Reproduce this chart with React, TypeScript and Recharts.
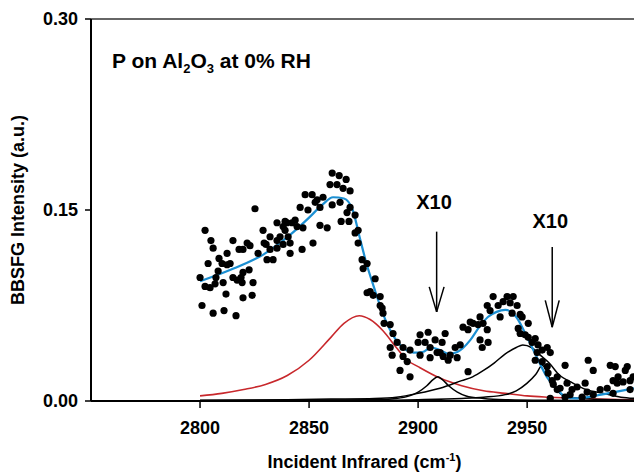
import React from "react";
import {
  ComposedChart,
  XAxis,
  YAxis,
  Scatter,
  Line,
  ReferenceLine,
  ReferenceDot,
} from "recharts";

const FONT = "'Liberation Sans', Arial, sans-serif";

const xTicks = [2800, 2850, 2900, 2950];
const yTicks = [0, 0.15, 0.3];

// measured points (wavenumber, intensity)
const dotWn = [
  2800.0, 2800.9, 2802.3, 2802.3, 2803.7, 2804.6, 2805.0, 2806.0, 2806.0, 2806.9,
  2807.3, 2808.3, 2808.7, 2810.1, 2810.6, 2811.0, 2811.9, 2812.4, 2812.4, 2813.8,
  2815.1, 2815.1, 2816.5, 2817.0, 2817.9, 2818.8, 2819.3, 2819.7, 2819.7, 2819.7,
  2821.6, 2822.5, 2822.9, 2823.9, 2824.3, 2825.2, 2826.6, 2828.9, 2829.4, 2830.3,
  2830.7, 2832.1, 2832.1, 2833.5, 2835.3, 2835.3, 2835.3, 2836.7, 2838.1, 2838.1,
  2839.0, 2839.0, 2839.9, 2840.4, 2841.3, 2841.3, 2842.2, 2843.6, 2844.5, 2845.9,
  2846.8, 2847.2, 2848.2, 2849.5, 2851.4, 2851.8, 2852.8, 2853.7, 2855.0, 2855.0,
  2856.4, 2858.3, 2859.6, 2860.6, 2860.6, 2862.8, 2863.8, 2864.2, 2864.7, 2865.6,
  2867.0, 2867.4, 2868.3, 2868.8, 2868.8, 2871.1, 2871.1, 2872.5, 2872.5, 2874.3,
  2874.8, 2876.6, 2876.6, 2878.0, 2879.4, 2880.3, 2882.6, 2882.6, 2883.5, 2883.9,
  2884.4, 2887.2, 2887.2, 2888.1, 2888.5, 2890.4, 2891.7, 2893.1, 2893.1, 2895.0,
  2896.3, 2896.3, 2900.0, 2900.9, 2900.9, 2903.2, 2904.6, 2905.5, 2905.5, 2907.8,
  2908.7, 2910.1, 2911.0, 2911.5, 2912.4, 2913.8, 2914.7, 2917.0, 2917.9, 2919.3,
  2920.6, 2922.9, 2922.9, 2923.9, 2925.2, 2927.5, 2928.4, 2928.4, 2929.4, 2929.8,
  2931.7, 2931.7, 2932.1, 2933.0, 2934.4, 2936.7, 2937.6, 2939.0, 2940.8, 2942.2,
  2943.1, 2943.6, 2945.4, 2945.9, 2946.8, 2946.8, 2947.7, 2949.1, 2950.5, 2950.5,
  2952.3, 2953.7, 2953.7, 2954.6, 2955.0, 2956.9, 2956.9, 2959.2, 2959.2, 2959.6,
  2960.6, 2960.6, 2961.5, 2962.0, 2963.8, 2963.8, 2965.1, 2967.4, 2967.4, 2968.3,
  2969.7, 2970.6, 2972.9, 2975.2, 2976.6, 2977.5, 2978.0, 2980.3, 2980.3, 2983.5,
  2986.7, 2988.1, 2989.4, 2989.4, 2990.4, 2991.3, 2991.7, 2994.0, 2995.0, 2995.9,
  2997.2, 2997.2, 2998.6,
];
const dotInt = [
  0.097, 0.075, 0.134, 0.090, 0.108, 0.089, 0.126, 0.120, 0.069, 0.092,
  0.097, 0.102, 0.112, 0.108, 0.093, 0.071, 0.084, 0.116, 0.107, 0.108,
  0.126, 0.097, 0.067, 0.095, 0.119, 0.097, 0.093, 0.101, 0.119, 0.081,
  0.124, 0.103, 0.122, 0.083, 0.093, 0.151, 0.116, 0.134, 0.124, 0.123,
  0.111, 0.129, 0.119, 0.111, 0.140, 0.126, 0.120, 0.129, 0.123, 0.137,
  0.141, 0.134, 0.140, 0.129, 0.124, 0.116, 0.140, 0.142, 0.137, 0.152,
  0.119, 0.136, 0.162, 0.150, 0.162, 0.124, 0.156, 0.158, 0.152, 0.138,
  0.160, 0.136, 0.170, 0.179, 0.154, 0.170, 0.177, 0.156, 0.141, 0.167,
  0.174, 0.148, 0.141, 0.165, 0.152, 0.146, 0.132, 0.134, 0.124, 0.111,
  0.104, 0.108, 0.085, 0.086, 0.083, 0.096, 0.082, 0.075, 0.073, 0.069,
  0.061, 0.060, 0.042, 0.036, 0.053, 0.046, 0.024, 0.042, 0.035, 0.031,
  0.040, 0.019, 0.046, 0.052, 0.036, 0.046, 0.054, 0.042, 0.034, 0.048,
  0.038, 0.038, 0.046, 0.035, 0.053, 0.032, 0.036, 0.042, 0.034, 0.044,
  0.058, 0.056, 0.023, 0.062, 0.061, 0.060, 0.066, 0.048, 0.042, 0.061,
  0.075, 0.056, 0.046, 0.071, 0.082, 0.075, 0.066, 0.078, 0.082, 0.077,
  0.069, 0.082, 0.075, 0.057, 0.068, 0.053, 0.066, 0.052, 0.061, 0.050,
  0.046, 0.049, 0.032, 0.038, 0.044, 0.040, 0.031, 0.042, 0.027, 0.022,
  0.038, 0.002, 0.016, 0.013, 0.019, 0.009, 0.010, 0.028, 0.003, 0.014,
  0.005, 0.009, 0.011, 0.003, 0.014, 0.007, 0.032, 0.024, 0.005, 0.009,
  0.010, 0.028, 0.016, 0.006, 0.027, 0.014, 0.019, 0.015, 0.024, 0.027,
  0.016, 0.009, 0.019,
];

// total fit (blue)
const fitWn = [
  2800, 2814, 2829, 2841, 2850, 2856, 2861, 2866, 2870, 2873, 2876, 2880, 2884,
  2888, 2893, 2898, 2902, 2906, 2910, 2914, 2918, 2924, 2928, 2932, 2936, 2940,
  2945, 2950, 2954, 2959, 2964, 2968, 2972, 2978, 2984, 2990, 2999,
];
const fitInt = [
  0.094, 0.103, 0.115, 0.130, 0.144, 0.154, 0.160, 0.159, 0.150, 0.130, 0.110,
  0.088, 0.068, 0.053, 0.042, 0.038, 0.0385, 0.042, 0.040, 0.037, 0.0385, 0.048,
  0.058, 0.066, 0.070, 0.0715, 0.066, 0.050, 0.036, 0.019, 0.0086, 0.003, 0.002,
  0.003, 0.005, 0.007, 0.010,
];

// broad component (red)
const redWn = [
  2800, 2810, 2820, 2830, 2840, 2850, 2860, 2866, 2873, 2878, 2884, 2890, 2895,
  2900, 2910, 2920, 2930, 2940, 2950, 2960, 2975, 3000,
];
const redInt = [
  0.004, 0.006, 0.009, 0.013, 0.020, 0.032, 0.050, 0.061, 0.067, 0.064, 0.055,
  0.042, 0.032, 0.027, 0.018, 0.012, 0.008, 0.006, 0.004, 0.003, 0.002, 0.001,
];

// resonant components (black)
const peakAWn = [2800, 2860, 2880, 2890, 2896, 2900, 2904, 2907, 2909, 2911, 2914, 2918, 2922, 2930, 2940, 2960, 3000];
const peakAInt = [0.0003, 0.0008, 0.001, 0.002, 0.004, 0.007, 0.012, 0.017, 0.019, 0.017, 0.012, 0.007, 0.004, 0.002, 0.001, 0.0005, 0.0002];

const peakBWn = [
  2800, 2840, 2860, 2880, 2890, 2900, 2910, 2920, 2925, 2930, 2935, 2940, 2945,
  2948, 2952, 2956, 2960, 2965, 2970, 2977, 2985, 2993, 3000,
];
const peakBInt = [
  0.0005, 0.001, 0.0015, 0.002, 0.003, 0.006, 0.010, 0.016, 0.019, 0.024, 0.030,
  0.037, 0.042, 0.044, 0.042, 0.036, 0.030, 0.020, 0.015, 0.009, 0.006, 0.003,
  0.002,
];

const peakCWn = [2800, 2880, 2900, 2920, 2930, 2940, 2945, 2950, 2954, 2957, 2960, 2963, 2967, 2975, 2990, 3000];
const peakCInt = [0.0002, 0.0005, 0.001, 0.002, 0.003, 0.005, 0.008, 0.014, 0.021, 0.028, 0.019, 0.010, 0.004, 0.002, 0.001, 0.0008];

const zip = (xs: number[], ys: number[]) => xs.map((x, i) => ({ x, y: ys[i] }));

const dots = zip(dotWn, dotInt);
const fit = zip(fitWn, fitInt);
const red = zip(redWn, redInt);
const peakA = zip(peakAWn, peakAInt);
const peakB = zip(peakBWn, peakBInt);
const peakC = zip(peakCWn, peakCInt);

const tickStyle = { fontFamily: FONT, fontSize: 18, fontWeight: "bold", fill: "#000" };
const x10Label = { value: "X10", position: "center" as const, fill: "#000", fontSize: 20, fontWeight: "bold", fontFamily: FONT };

const Dot = (props: any) => <circle cx={props.cx} cy={props.cy} r={3.6} fill="#000" />;

const XTitle = (props: any) => {
  const vb = props.viewBox;
  return (
    <text x={vb.x + vb.width / 2 + 2} y={468} textAnchor="middle" fontFamily={FONT} fontSize={18} fontWeight="bold" fill="#000">
      Incident Infrared (cm<tspan dy={-7} fontSize={11}>-1</tspan><tspan dy={7}>)</tspan>
    </text>
  );
};

const YTitle = (props: any) => {
  const vb = props.viewBox;
  const cy = vb.y + vb.height / 2;
  return (
    <text x={24} y={cy} transform={`rotate(-90 24 ${cy})`} textAnchor="middle" fontFamily={FONT} fontSize={18} fontWeight="bold" fill="#000">
      BBSFG Intensity (a.u.)
    </text>
  );
};

export default function App() {
  return (
    <div style={{ position: "fixed", left: 0, top: 0, width: 634, height: 473, background: "#fff" }}>
      <ComposedChart width={634} height={473} margin={{ top: 19, right: 0, bottom: 12, left: 0 }}>
        <XAxis
          type="number"
          dataKey="x"
          domain={[2750, 2999]}
          allowDataOverflow
          ticks={xTicks}
          tickSize={7}
          tickMargin={13}
          height={60}
          axisLine={{ stroke: "#000", strokeWidth: 2 }}
          tickLine={{ stroke: "#000", strokeWidth: 1.5 }}
          tick={tickStyle}
          label={<XTitle />}
        />
        <YAxis
          type="number"
          dataKey="y"
          domain={[0, 0.3]}
          allowDataOverflow
          ticks={yTicks}
          width={91}
          tickSize={6}
          tickMargin={7}
          tickFormatter={(v: number) => v.toFixed(2)}
          axisLine={{ stroke: "#000", strokeWidth: 2 }}
          tickLine={{ stroke: "#000", strokeWidth: 1.5 }}
          tick={tickStyle}
          label={<YTitle />}
        />
        <ReferenceLine y={0.3} stroke="#333" strokeWidth={1.5} />
        <Scatter data={dots} shape={Dot} isAnimationActive={false} />
        <Line data={red} dataKey="y" type="monotone" stroke="#c8282c" strokeWidth={1.6} dot={false} isAnimationActive={false} />
        <Line data={peakA} dataKey="y" type="monotone" stroke="#000" strokeWidth={1.5} dot={false} isAnimationActive={false} />
        <Line data={peakB} dataKey="y" type="monotone" stroke="#000" strokeWidth={1.5} dot={false} isAnimationActive={false} />
        <Line data={peakC} dataKey="y" type="monotone" stroke="#000" strokeWidth={1.5} dot={false} isAnimationActive={false} />
        <Line data={fit} dataKey="y" type="monotone" stroke="#1b8fd2" strokeWidth={2.2} dot={false} isAnimationActive={false} />
        <ReferenceLine segment={[{ x: 2908.5, y: 0.133 }, { x: 2908.5, y: 0.07 }]} stroke="#000" strokeWidth={1.5} />
        <ReferenceLine segment={[{ x: 2905.1, y: 0.0896 }, { x: 2908.5, y: 0.07 }]} stroke="#000" strokeWidth={1.5} />
        <ReferenceLine segment={[{ x: 2911.9, y: 0.0896 }, { x: 2908.5, y: 0.07 }]} stroke="#000" strokeWidth={1.5} />
        <ReferenceLine segment={[{ x: 2961.5, y: 0.121 }, { x: 2961.5, y: 0.058 }]} stroke="#000" strokeWidth={1.5} />
        <ReferenceLine segment={[{ x: 2958.3, y: 0.079 }, { x: 2961.5, y: 0.058 }]} stroke="#000" strokeWidth={1.5} />
        <ReferenceLine segment={[{ x: 2964.7, y: 0.079 }, { x: 2961.5, y: 0.058 }]} stroke="#000" strokeWidth={1.5} />
        <ReferenceDot x={2907.3} y={0.1563} r={0} fill="none" stroke="none" label={x10Label} />
        <ReferenceDot x={2960.6} y={0.1414} r={0} fill="none" stroke="none" label={x10Label} />
      </ComposedChart>
      <svg width={634} height={473} style={{ position: "absolute", left: 0, top: 0, pointerEvents: "none" }}>
        <text x={112} y={68} fontFamily={FONT} fontSize={21} fontWeight="bold" fill="#000">
          P on Al<tspan dy={5} fontSize={13}>2</tspan>
          <tspan dy={-5}>O</tspan>
          <tspan dy={5} fontSize={13}>3</tspan>
          <tspan dy={-5}> at 0% RH</tspan>
        </text>
      </svg>
    </div>
  );
}
